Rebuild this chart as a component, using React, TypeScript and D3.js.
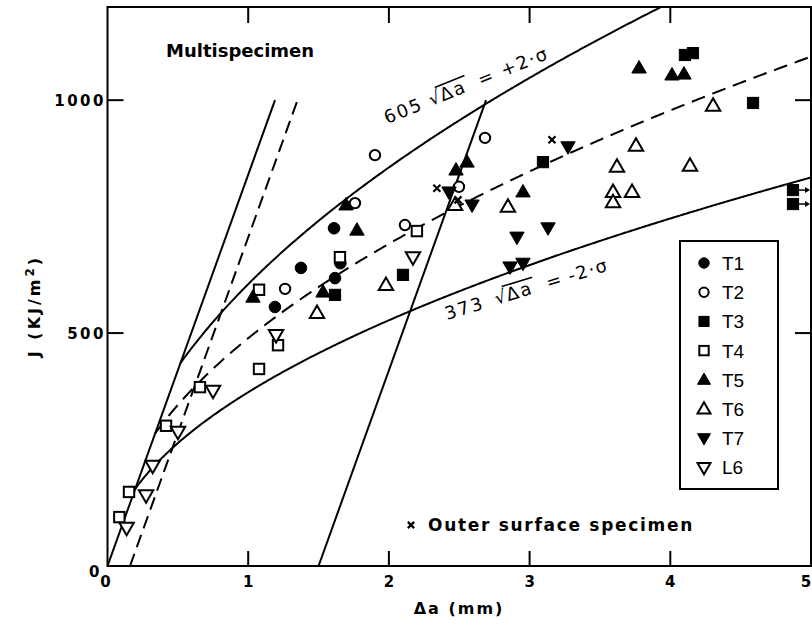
import React from 'react';
import * as d3 from 'd3';

// ---------- data ----------
const X_TICKS = [0, 1, 2, 3, 4, 5];
const Y_TICKS = [0, 500, 1000];

// [Δa (mm), J (kJ/m²)]
const T1: [number, number][] = [[1.19, 556], [1.375, 640], [1.61, 725], [1.617, 618], [1.655, 650]];
const T2: [number, number][] = [[1.262, 595], [1.759, 779], [1.901, 882], [2.114, 732], [2.498, 814], [2.683, 919]];
const T3: [number, number][] = [[1.617, 582], [2.1, 625], [3.095, 867], [4.104, 1097], [4.161, 1101], [4.588, 994], [4.872, 807], [4.872, 777]];
const T3_ARROWS: [number, number][] = [[4.872, 807], [4.872, 777]];
const T4: [number, number][] = [[0.084, 105], [0.153, 159], [0.416, 301], [0.657, 384], [1.077, 423], [1.077, 593], [1.212, 474], [1.652, 663], [2.199, 719]];
const T5: [number, number][] = [[1.034, 577], [1.532, 588], [1.695, 775], [1.773, 721], [2.477, 850], [2.555, 867], [2.953, 803], [3.778, 1069], [4.012, 1054], [4.097, 1056]];
const T6: [number, number][] = [[1.489, 543], [1.979, 603], [2.47, 775], [2.846, 771], [3.593, 803], [3.593, 781], [3.621, 857], [3.728, 803], [3.756, 902], [4.14, 859], [4.304, 988]];
const T7: [number, number][] = [[2.427, 803], [2.591, 775], [2.861, 642], [2.953, 650], [2.91, 706], [3.131, 726], [3.273, 900]];
const L6: [number, number][] = [[0.136, 82], [0.274, 152], [0.321, 215], [0.501, 288], [0.75, 376], [1.198, 496], [2.171, 663]];
const OUTER: [number, number][] = [[2.341, 811], [2.491, 786], [3.159, 915]];

// fitted curves J = C·sqrt(Δa)
const UPPER_C = 605;
const MEAN_C = 489;
const LOWER_C = 373;
// blunting lines J = slope·(Δa - offset), drawn up to J = 1000
const BLUNT_SLOPE = 840;
const BLUNT_OFFSETS = [0, 0.16, 1.5];
const BLUNT_DASHED = [false, true, false];
const BLUNT_TOP = 1000;

type Shape = 'circle' | 'square' | 'up' | 'down' | 'cross';
const SERIES: { label: string; data: [number, number][]; shape: Shape; filled: boolean }[] = [
  { label: 'T1', data: T1, shape: 'circle', filled: true },
  { label: 'T2', data: T2, shape: 'circle', filled: false },
  { label: 'T3', data: T3, shape: 'square', filled: true },
  { label: 'T4', data: T4, shape: 'square', filled: false },
  { label: 'T5', data: T5, shape: 'up', filled: true },
  { label: 'T6', data: T6, shape: 'up', filled: false },
  { label: 'T7', data: T7, shape: 'down', filled: true },
  { label: 'L6', data: L6, shape: 'down', filled: false },
];

const FONT = "'DejaVu Sans', sans-serif";

function Marker({ shape, filled, x, y, s = 1 }: { shape: Shape; filled: boolean; x: number; y: number; s?: number }) {
  const fill = filled ? '#000' : '#fff';
  const sw = filled ? 1 : 2;
  const common = { fill, stroke: '#000', strokeWidth: sw };
  if (shape === 'circle') return <circle cx={x} cy={y} r={filled ? 5.8 * s : 5.2 * s} {...common} />;
  if (shape === 'square') {
    const h = (filled ? 5.6 : 5.2) * s;
    return <rect x={x - h} y={y - h} width={2 * h} height={2 * h} {...common} />;
  }
  if (shape === 'up') {
    const w = 7.2 * s, t = 7.5 * s, b = 5 * s;
    return <path d={`M${x},${y - t}L${x + w},${y + b}L${x - w},${y + b}Z`} {...common} strokeLinejoin="miter" />;
  }
  if (shape === 'down') {
    const w = 7.2 * s, t = 7.5 * s, b = 5 * s;
    return <path d={`M${x},${y + t}L${x + w},${y - b}L${x - w},${y - b}Z`} {...common} strokeLinejoin="miter" />;
  }
  const c = 3.5 * s;
  return (
    <path d={`M${x - c},${y - c}L${x + c},${y + c}M${x - c},${y + c}L${x + c},${y - c}`} stroke="#000" strokeWidth={2.2} fill="none" />
  );
}

export default function App() {
  const W = 812, H = 627;
  const L = 107.5, R = 811, T = 7, B = 566;
  const x = d3.scaleLinear().domain([0, 5]).range([L, R]);
  const y = d3.scaleLinear().domain([0, 1200]).range([B, T]);
  const line = d3.line<[number, number]>().x(d => x(d[0])).y(d => y(d[1]));

  const sqrtCurve = (C: number) => {
    const a0 = (C / BLUNT_SLOPE) ** 2;
    const pts: [number, number][] = d3.range(a0, 5, 0.01).map(a => [a, C * Math.sqrt(a)] as [number, number]);
    pts.push([5, C * Math.sqrt(5)]);
    return line(pts) as string;
  };

  const blunt = BLUNT_OFFSETS.map((o, i) => ({
    d: line([[o, 0], [o + BLUNT_TOP / BLUNT_SLOPE, BLUNT_TOP]]) as string,
    dashed: BLUNT_DASHED[i],
  }));

  const legX = 680, legY = 241, legW = 98, legH = 248;
  const legStep = 29.2;

  return (
    <svg width={W} height={H} style={{ position: 'absolute', left: 0, top: 0, background: '#fff' }} fontFamily={FONT}>
      <rect x={0} y={0} width={W} height={H} fill="#fff" />
      <defs>
        <clipPath id="plot">
          <rect x={L} y={T} width={R - L} height={B - T} />
        </clipPath>
      </defs>

      {/* curves */}
      <g clipPath="url(#plot)" fill="none" stroke="#000" strokeWidth={2}>
        {blunt.map((b, i) => (
          <path key={i} d={b.d} strokeDasharray={b.dashed ? '13,7' : undefined} />
        ))}
        <path d={sqrtCurve(UPPER_C)} />
        <path d={sqrtCurve(MEAN_C)} strokeDasharray="14,8" />
        <path d={sqrtCurve(LOWER_C)} />
      </g>

      {/* points */}
      <g>
        {SERIES.map(s =>
          s.data.map((d, i) => <Marker key={s.label + i} shape={s.shape} filled={s.filled} x={x(d[0])} y={y(d[1])} />)
        )}
        {OUTER.map((d, i) => <Marker key={'o' + i} shape="cross" filled={false} x={x(d[0])} y={y(d[1])} />)}
        {T3_ARROWS.map((d, i) => {
          const x0 = x(d[0]) + 6, x1 = R - 1, yy = y(d[1]);
          return (
            <g key={'ar' + i}>
              <line x1={x0} y1={yy} x2={x1 - 4} y2={yy} stroke="#000" strokeWidth={1.5} />
              <path d={`M${x1},${yy}L${x1 - 5},${yy - 3}L${x1 - 5},${yy + 3}Z`} fill="#000" />
            </g>
          );
        })}
      </g>

      {/* frame */}
      <rect x={L} y={T} width={R - L} height={B - T} fill="none" stroke="#000" strokeWidth={2} />
      {X_TICKS.filter(t => t > 0 && t < 5).map(t => (
        <g key={'xt' + t} stroke="#000" strokeWidth={2}>
          <line x1={x(t)} x2={x(t)} y1={B} y2={B - 15} />
          <line x1={x(t)} x2={x(t)} y1={T} y2={T + 16} />
        </g>
      ))}
      {Y_TICKS.filter(t => t > 0).map(t => (
        <g key={'yt' + t} stroke="#000" strokeWidth={2}>
          <line x1={L} x2={L + 16} y1={y(t)} y2={y(t)} />
          <line x1={R} x2={R - 16} y1={y(t)} y2={y(t)} />
        </g>
      ))}

      {/* tick labels */}
      <g fontSize={15} fontWeight="bold" fill="#000">
        {X_TICKS.map(t => (
          <text key={'xl' + t} x={t === 0 ? x(t) - 2 : t === 5 ? 806 : x(t)} y={587} textAnchor="middle">
            {t}
          </text>
        ))}
        {Y_TICKS.map(t => (
          <text key={'yl' + t} x={t === 0 ? 102 : 106} y={t === 0 ? 577 : y(t) + 5.5} textAnchor="end" letterSpacing={2.5}>
            {t}
          </text>
        ))}
      </g>

      {/* axis titles */}
      <text x={459} y={614} textAnchor="middle" fontSize={16} fontWeight="bold" letterSpacing={2}>
        Δa (mm)
      </text>
      <text transform="translate(40,306) rotate(-90)" textAnchor="middle" fontSize={16} fontWeight="bold" letterSpacing={3}>
        J (KJ/m<tspan dy={-6} fontSize={12}>2</tspan><tspan dy={6}>)</tspan>
      </text>

      {/* annotations */}
      <text x={166} y={57} fontSize={18} fontWeight="bold">Multispecimen</text>
      <g fontSize={17} fontWeight="bold">
        <Marker shape="cross" filled={false} x={411} y={525} s={0.9} />
        <text x={428} y={531} letterSpacing={1.7}>Outer surface specimen</text>
      </g>

      <g transform="translate(387,124) rotate(-22)" fontSize={18}>
        <text x={0} y={0} letterSpacing={2}>605</text>
        <text x={48} y={0}>√</text>
        <line x1={58} x2={90} y1={-16} y2={-16} stroke="#000" strokeWidth={1.5} />
        <text x={60} y={0} letterSpacing={2}>Δa</text>
        <text x={101} y={0}>=</text>
        <text x={126} y={0} letterSpacing={1.5}>+2·σ</text>
      </g>
      <g transform="translate(447,320) rotate(-17)" fontSize={18}>
        <text x={0} y={0} letterSpacing={2}>373</text>
        <text x={52} y={0}>√</text>
        <line x1={62} x2={94} y1={-16} y2={-16} stroke="#000" strokeWidth={1.5} />
        <text x={64} y={0} letterSpacing={2}>Δa</text>
        <text x={106} y={0}>=</text>
        <text x={129} y={0} letterSpacing={1.5}>-2·σ</text>
      </g>

      {/* legend */}
      <rect x={legX} y={legY} width={legW} height={legH} fill="#fff" stroke="#000" strokeWidth={2} />
      {SERIES.map((s, i) => {
        const cy = legY + 22 + i * legStep;
        return (
          <g key={'lg' + s.label}>
            <Marker shape={s.shape} filled={s.filled} x={legX + 24} y={cy} s={0.9} />
            <text x={legX + 42} y={cy + 7} fontSize={19} fontFamily="'Liberation Sans', sans-serif">
              {s.label}
            </text>
          </g>
        );
      })}
    </svg>
  );
}
